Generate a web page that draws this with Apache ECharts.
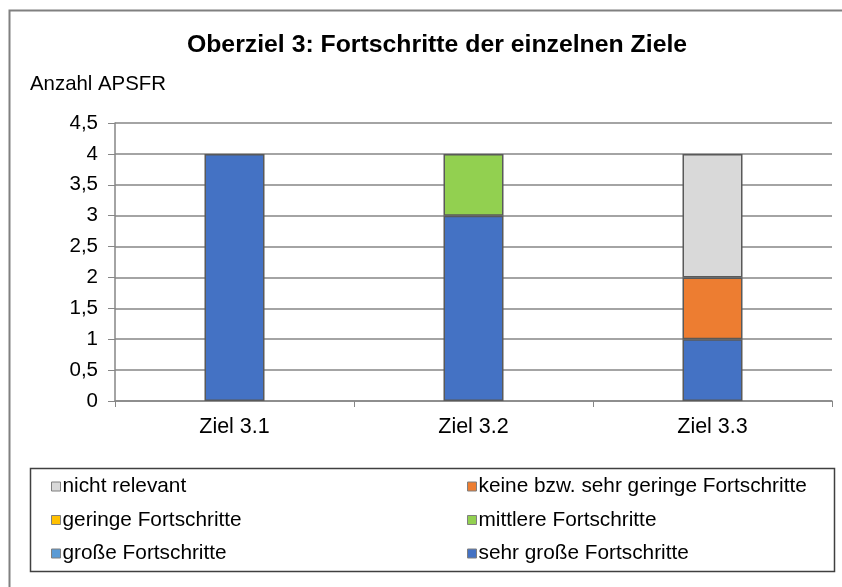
<!DOCTYPE html>
<html>
<head>
<meta charset="utf-8">
<script src="https://cdn.jsdelivr.net/npm/echarts@6/dist/echarts.min.js"></script>
<style>
  html, body { margin: 0; padding: 0; background: #fff; }
  #chart { width: 842px; height: 587px; }
</style>
</head>
<body>
<div id="chart"></div>
<script>
// data
var categories = ["Ziel 3.1", "Ziel 3.2", "Ziel 3.3"];
var sehrGross = [4, 3, 1];
var gross = [0, 0, 0];
var mittlere = [0, 1, 0];
var geringe = [0, 0, 0];
var keine = [0, 0, 1];
var nichtRelevant = [0, 0, 2];

var names = [
  "sehr große Fortschritte",
  "große Fortschritte",
  "mittlere Fortschritte",
  "geringe Fortschritte",
  "keine bzw. sehr geringe Fortschritte",
  "nicht relevant"
];
var values = [sehrGross, gross, mittlere, geringe, keine, nichtRelevant];
var colors = ["#4472C4", "#5B9BD5", "#92D050", "#FFC000", "#ED7D31", "#D9D9D9"];

var font = "Liberation Sans, Arial, sans-serif";

var series = names.map(function (n, i) {
  return {
    name: n,
    type: "bar",
    stack: "all",
    barWidth: 60,
    data: values[i].map(function (v) { return v === 0 ? null : v; }),
    itemStyle: { color: colors[i], borderColor: "#595959", borderWidth: 1.5 }
  };
});

var legendCommon = {
  orient: "vertical",
  itemWidth: 9,
  itemHeight: 9,
  itemGap: 12.5,
  icon: "rect",
  selectedMode: false,
  textStyle: { fontFamily: font, fontSize: 20.8, color: "#000", padding: [0, 0, 0, -3] },
  itemStyle: { borderColor: "#7f7f7f", borderWidth: 1 }
};

var myChart = echarts.init(document.getElementById("chart"));
myChart.setOption({
  animation: false,
  title: {
    text: "Oberziel 3: Fortschritte der einzelnen Ziele",
    left: 432,
    textAlign: "center",
    top: 28,
    textStyle: { fontFamily: font, fontSize: 24.8, fontWeight: "bold", color: "#000" }
  },
  graphic: [
    {
      type: "rect",
      shape: { x: 9.5, y: 10.5, width: 840, height: 590 },
      style: { fill: null, stroke: "#808080", lineWidth: 2 },
      silent: true
    },
    {
      type: "rect",
      shape: { x: 30.5, y: 468.5, width: 804, height: 103 },
      style: { fill: null, stroke: "#404040", lineWidth: 1.5 },
      silent: true
    },
    {
      type: "text",
      left: 30,
      top: 74,
      style: { text: "Anzahl APSFR", font: "20.4px " + font, fill: "#000" }
    }
  ],
  legend: [
    Object.assign({}, legendCommon, {
      left: 46, top: 471,
      data: ["nicht relevant", "geringe Fortschritte", "große Fortschritte"]
    }),
    Object.assign({}, legendCommon, {
      left: 462, top: 471,
      data: ["keine bzw. sehr geringe Fortschritte", "mittlere Fortschritte", "sehr große Fortschritte"]
    })
  ],
  grid: { left: 115, right: 10, top: 123, bottom: 186 },
  xAxis: {
    type: "category",
    data: categories,
    axisLine: { lineStyle: { color: "#868686", width: 1.5 } },
    axisTick: { show: true, length: 6, lineStyle: { color: "#868686" } },
    axisLabel: { fontFamily: font, fontSize: 21.5, color: "#000", margin: 15 }
  },
  yAxis: {
    type: "value",
    min: 0,
    max: 4.5,
    interval: 0.5,
    axisLine: { show: true, lineStyle: { color: "#868686", width: 1.5 } },
    axisTick: { show: true, length: 7, lineStyle: { color: "#868686" } },
    splitLine: { lineStyle: { color: "#868686", width: 1.5 } },
    axisLabel: {
      fontFamily: font, fontSize: 20.5, color: "#000", margin: 17,
      formatter: function (v) { return String(v).replace(".", ","); }
    }
  },
  series: series
});
</script>
</body>
</html>
